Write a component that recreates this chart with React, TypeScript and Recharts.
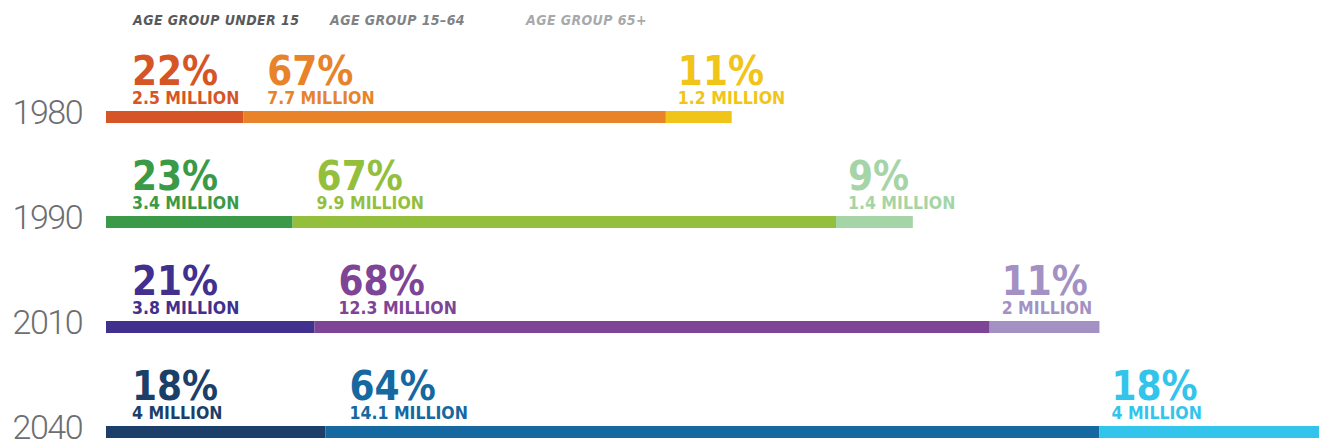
import React from "react";
import { BarChart, Bar, XAxis, YAxis, Cell, LabelList } from "recharts";

const years = ["1980", "1990", "2010", "2040"];
const groups = ["AGE GROUP UNDER 15", "AGE GROUP 15–64", "AGE GROUP 65+"];
const under15 = [2.5, 3.4, 3.8, 4];
const age15to64 = [7.7, 9.9, 12.3, 14.1];
const age65 = [1.2, 1.4, 2, 4];
const pctUnder15 = [22, 23, 21, 18];
const pct15to64 = [67, 67, 68, 64];
const pct65 = [11, 9, 11, 18];

// one palette per year: [under 15, 15-64, 65+]
const palettes = [
  ["#d65527", "#e8832a", "#f1c41a"],
  ["#3a9a47", "#93bf3d", "#a5d5a6"],
  ["#41308d", "#7e4496", "#a391c4"],
  ["#1c3f69", "#1568a0", "#33c4ec"],
];
const legendColors = ["#58595b", "#808285", "#a7a9ac"];
const legendWidths = [197, 196, 200];
const labelOffset = [26, 24, 12];

const data = years.map((year, i) => ({
  year,
  u15: under15[i],
  mid: age15to64[i],
  old: age65[i],
}));

const values = [under15, age15to64, age65];
const pcts = [pctUnder15, pct15to64, pct65];
const keys = ["u15", "mid", "old"];

const font = "'DejaVu Sans Condensed', 'DejaVu Sans', sans-serif";

const makeLabel = (g: number) => (props: any) => {
  const { x, y, index } = props;
  const color = palettes[index][g];
  const lx = Number(x) + labelOffset[g];
  return (
    <g>
      <text x={lx} y={Number(y) - 26} fill={color} fontFamily={font} fontWeight={700} fontSize={40}>
        {pcts[g][index]}%
      </text>
      <text x={lx} y={Number(y) - 7} fill={color} fontFamily={font} fontWeight={700} fontSize={17.5}>
        {values[g][index]} MILLION
      </text>
    </g>
  );
};

const YearTick = (props: any) => {
  const { y, payload } = props;
  return (
    <text
      x={82}
      y={Number(y) + 7}
      textAnchor="end"
      fill="#6d6e71"
      fontFamily="Roboto, sans-serif"
      fontWeight={300}
      fontSize={34}
      letterSpacing={-1.5}
    >
      {payload.value}
    </text>
  );
};

export default function App() {
  return (
    <div
      style={{
        position: "absolute",
        left: 0,
        top: 0,
        width: 1319,
        height: 441,
        overflow: "hidden",
        background: "#fff",
      }}
    >
      <div
        style={{
          position: "absolute",
          left: 133,
          top: 12,
          display: "flex",
          fontFamily: font,
          fontWeight: 700,
          fontStyle: "italic",
          fontSize: 14,
          letterSpacing: 0.4,
          whiteSpace: "nowrap",
        }}
      >
        {groups.map((g, i) => (
          <span key={g} style={{ color: legendColors[i], width: legendWidths[i] }}>
            {g}
          </span>
        ))}
      </div>
      <BarChart
        width={1319}
        height={484}
        data={data}
        layout="vertical"
        margin={{ top: 64, right: 0, left: 0, bottom: 0 }}
      >
        <XAxis type="number" hide domain={[0, 22.1]} />
        <YAxis
          type="category"
          dataKey="year"
          width={106}
          axisLine={false}
          tickLine={false}
          tick={<YearTick />}
        />
        {keys.map((k, g) => (
          <Bar key={k} dataKey={k} stackId="a" barSize={12} isAnimationActive={false}>
            {data.map((d, i) => (
              <Cell key={d.year} fill={palettes[i][g]} />
            ))}
            <LabelList dataKey={k} content={makeLabel(g)} />
          </Bar>
        ))}
      </BarChart>
    </div>
  );
}
